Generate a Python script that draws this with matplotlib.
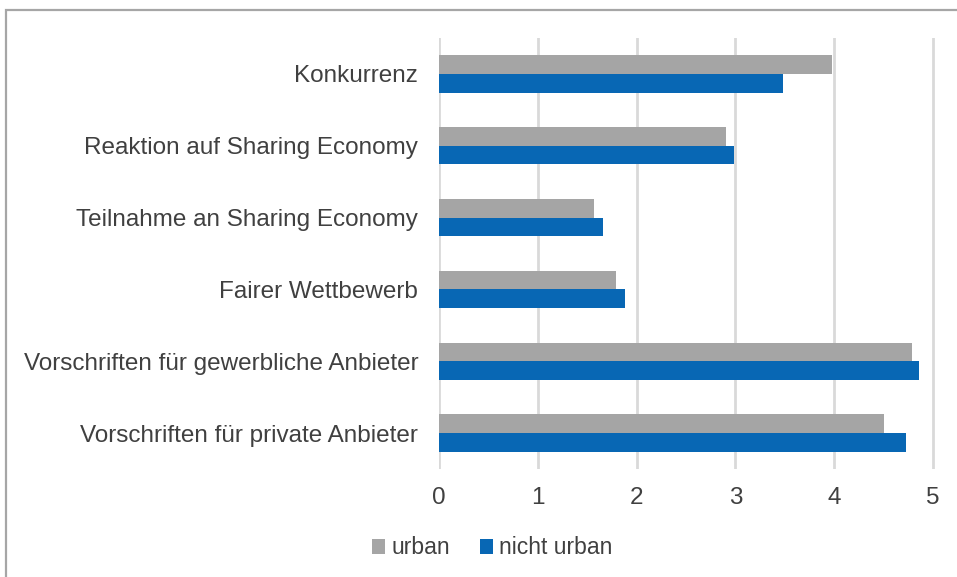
import matplotlib
matplotlib.use("Agg")
import matplotlib.pyplot as plt
import numpy as np
from matplotlib.patches import Rectangle

categories = ["Konkurrenz", "Reaktion auf Sharing Economy", "Teilnahme an Sharing Economy",
              "Fairer Wettbewerb", "Vorschriften für gewerbliche Anbieter",
              "Vorschriften für private Anbieter"]
urban = [3.98, 2.90, 1.57, 1.79, 4.79, 4.50]
nicht_urban = [3.48, 2.99, 1.66, 1.88, 4.86, 4.73]
series_names = ["urban", "nicht urban"]
x_ticks = [0, 1, 2, 3, 4, 5]

plt.rcParams['font.family'] = ['Liberation Sans', 'DejaVu Sans']

fig = plt.figure(figsize=(9.57, 5.77), dpi=100)
# outer chart frame (cropped on right and bottom)
fig.patches.append(Rectangle((6/957, -0.1), 1.2, 1 - 10/577 + 0.1, transform=fig.transFigure,
                             fill=False, edgecolor='#A6A6A6', linewidth=1.6))

xmax = 5.03
left_px, zero_px, five_px = 439, 439, 933
width_px = (five_px - zero_px) * xmax / 5
ax = fig.add_axes([left_px/957, 1 - 469/577, width_px/957, (469 - 38)/577])
y = np.arange(len(categories))
h = 0.26
ax.barh(y - h/2, urban, height=h, color='#A5A5A5', label=series_names[0], zorder=3)
ax.barh(y + h/2, nicht_urban, height=h, color='#0867B4', label=series_names[1], zorder=3)
ax.set_ylim(len(categories) - 0.5, -0.5)
ax.set_xlim(0, xmax)
ax.set_xticks(x_ticks)
ax.set_yticks(y)
ax.set_yticklabels(categories)
ax.grid(axis='x', color='#D9D9D9', linewidth=2, zorder=0)
for s in ax.spines.values():
    s.set_visible(False)
ax.tick_params(axis='both', length=0, labelsize=17.5, colors='#404040')
ax.tick_params(axis='y', pad=15)
ax.tick_params(axis='x', pad=13)

fig.legend(loc='center', bbox_to_anchor=(492/957, 1 - 548/577), ncol=2, frameon=False,
           fontsize=16.5, handlelength=0.6, handleheight=0.6, handletextpad=0.25,
           columnspacing=1.3, labelcolor='#404040')

fig.savefig("out.png", dpi=100)
